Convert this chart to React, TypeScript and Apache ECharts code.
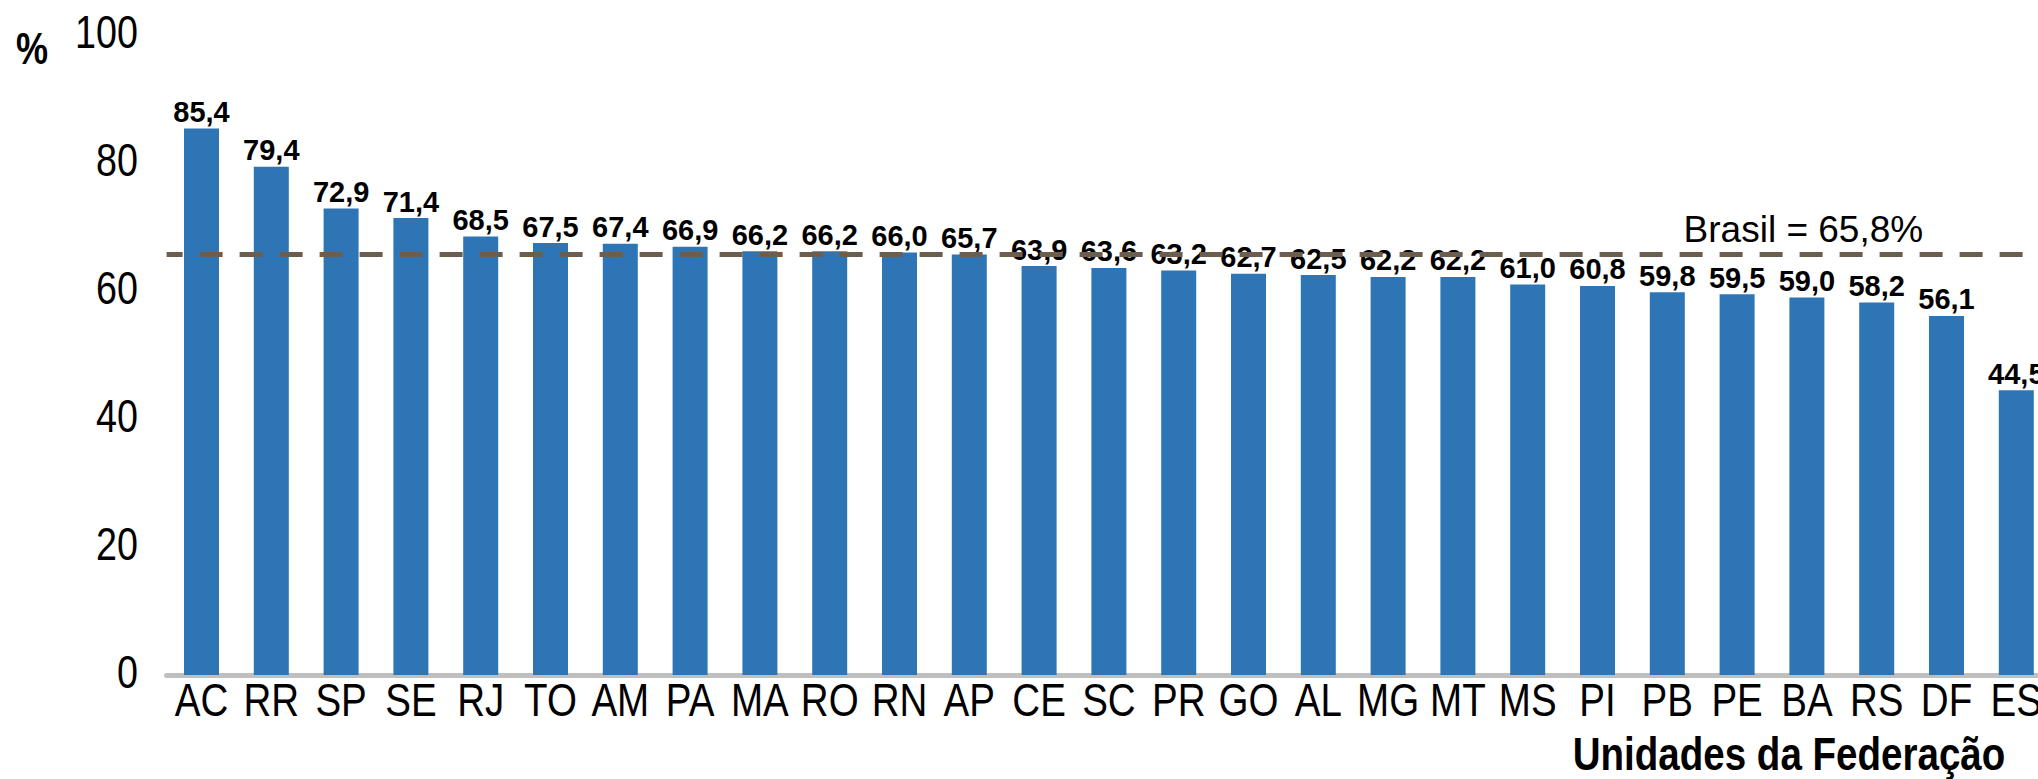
import React, { useEffect, useRef } from "react";
import * as echarts from "echarts";

const categories = ["AC", "RR", "SP", "SE", "RJ", "TO", "AM", "PA", "MA", "RO", "RN", "AP", "CE", "SC", "PR", "GO", "AL", "MG", "MT", "MS", "PI", "PB", "PE", "BA", "RS", "DF", "ES"];
const values = [85.4, 79.4, 72.9, 71.4, 68.5, 67.5, 67.4, 66.9, 66.2, 66.2, 66.0, 65.7, 63.9, 63.6, 63.2, 62.7, 62.5, 62.2, 62.2, 61.0, 60.8, 59.8, 59.5, 59.0, 58.2, 56.1, 44.5];
const brasil = 65.8;
const yTicks = [0, 20, 40, 60, 80, 100];
const brasilLabel = "Brasil = 65,8%";
const xAxisTitle = "Unidades da Federação";
const yUnit = "%";

const SANS = "'Liberation Sans', Arial, sans-serif";
const NARROW_SCALE = 0.82;

const fmt = (v: number) => v.toFixed(1).replace(".", ",");

export default function App() {
  const ref = useRef<HTMLDivElement>(null);
  useEffect(() => {
    if (!ref.current) return;
    const chart = echarts.init(ref.current, null, { renderer: "svg" });
    chart.setOption({
      animation: false,
      backgroundColor: "#ffffff",
      grid: {
        left: 166.6,
        top: 35,
        width: 1884.6,
        height: 640,
        containLabel: false,
        outerBoundsMode: "none",
      },
      xAxis: {
        type: "category",
        data: categories,
        axisLine: { show: true, lineStyle: { color: "#BFBFBF", width: 5 } },
        axisTick: { show: false },
        axisLabel: { show: false },
        splitLine: { show: false },
      },
      yAxis: {
        type: "value",
        min: yTicks[0],
        max: yTicks[yTicks.length - 1],
        interval: 20,
        axisLine: { show: false },
        axisTick: { show: false },
        splitLine: { show: false },
        axisLabel: { show: false },
      },
      series: [
        {
          type: "bar",
          data: values,
          barWidth: 35,
          itemStyle: { color: "#2E75B6" },
          label: {
            show: true,
            position: "top",
            distance: 2,
            color: "#000",
            fontFamily: SANS,
            fontWeight: "bold",
            fontSize: 29,
            formatter: (p: any) => fmt(p.value),
          },
          markLine: {
            silent: true,
            symbol: "none",
            lineStyle: {
              color: "#6B5E4E",
              width: 5,
              type: [23, 17],
              dashOffset: 6.6,
            },
            label: {
              show: true,
              position: "insideEndTop",
              formatter: brasilLabel,
              color: "#000",
              fontFamily: SANS,
              fontSize: 37,
              padding: [0, 122, 0, 0],
              distance: 6,
            },
            data: [{ yAxis: brasil }],
          },
        },
      ],
    });

    // Axis labels drawn in a condensed style (Arial Narrow look) at positions
    // given by the chart's own scales.
    const graphics: any[] = [];
    categories.forEach((c) => {
      const px = chart.convertToPixel({ xAxisIndex: 0 }, c) as number;
      graphics.push({
        type: "text",
        x: px,
        y: 700,
        scaleX: NARROW_SCALE,
        silent: true,
        style: {
          text: c,
          fontFamily: SANS,
          fontSize: 47,
          fill: "#000",
          align: "center",
          verticalAlign: "middle",
        },
      });
    });
    yTicks.forEach((t) => {
      const py = chart.convertToPixel({ yAxisIndex: 0 }, t) as number;
      graphics.push({
        type: "text",
        x: 138,
        y: py - 3,
        scaleX: NARROW_SCALE,
        silent: true,
        style: {
          text: String(t),
          fontFamily: SANS,
          fontSize: 46,
          fill: "#000",
          align: "right",
          verticalAlign: "middle",
        },
      });
    });
    graphics.push({
      type: "text",
      x: 16,
      y: 49,
      scaleX: NARROW_SCALE,
      silent: true,
      style: {
        text: yUnit,
        fontFamily: SANS,
        fontWeight: "bold",
        fontSize: 44,
        fill: "#000",
        align: "left",
        verticalAlign: "middle",
      },
    });
    graphics.push({
      type: "text",
      x: 1789,
      y: 754,
      scaleX: NARROW_SCALE,
      silent: true,
      style: {
        text: xAxisTitle,
        fontFamily: SANS,
        fontWeight: "bold",
        fontSize: 47,
        fill: "#000",
        align: "center",
        verticalAlign: "middle",
      },
    });
    chart.setOption({ graphic: graphics });

    return () => chart.dispose();
  }, []);
  return (
    <div
      ref={ref}
      style={{ position: "absolute", left: 0, top: 0, width: 2038, height: 779 }}
    />
  );
}
